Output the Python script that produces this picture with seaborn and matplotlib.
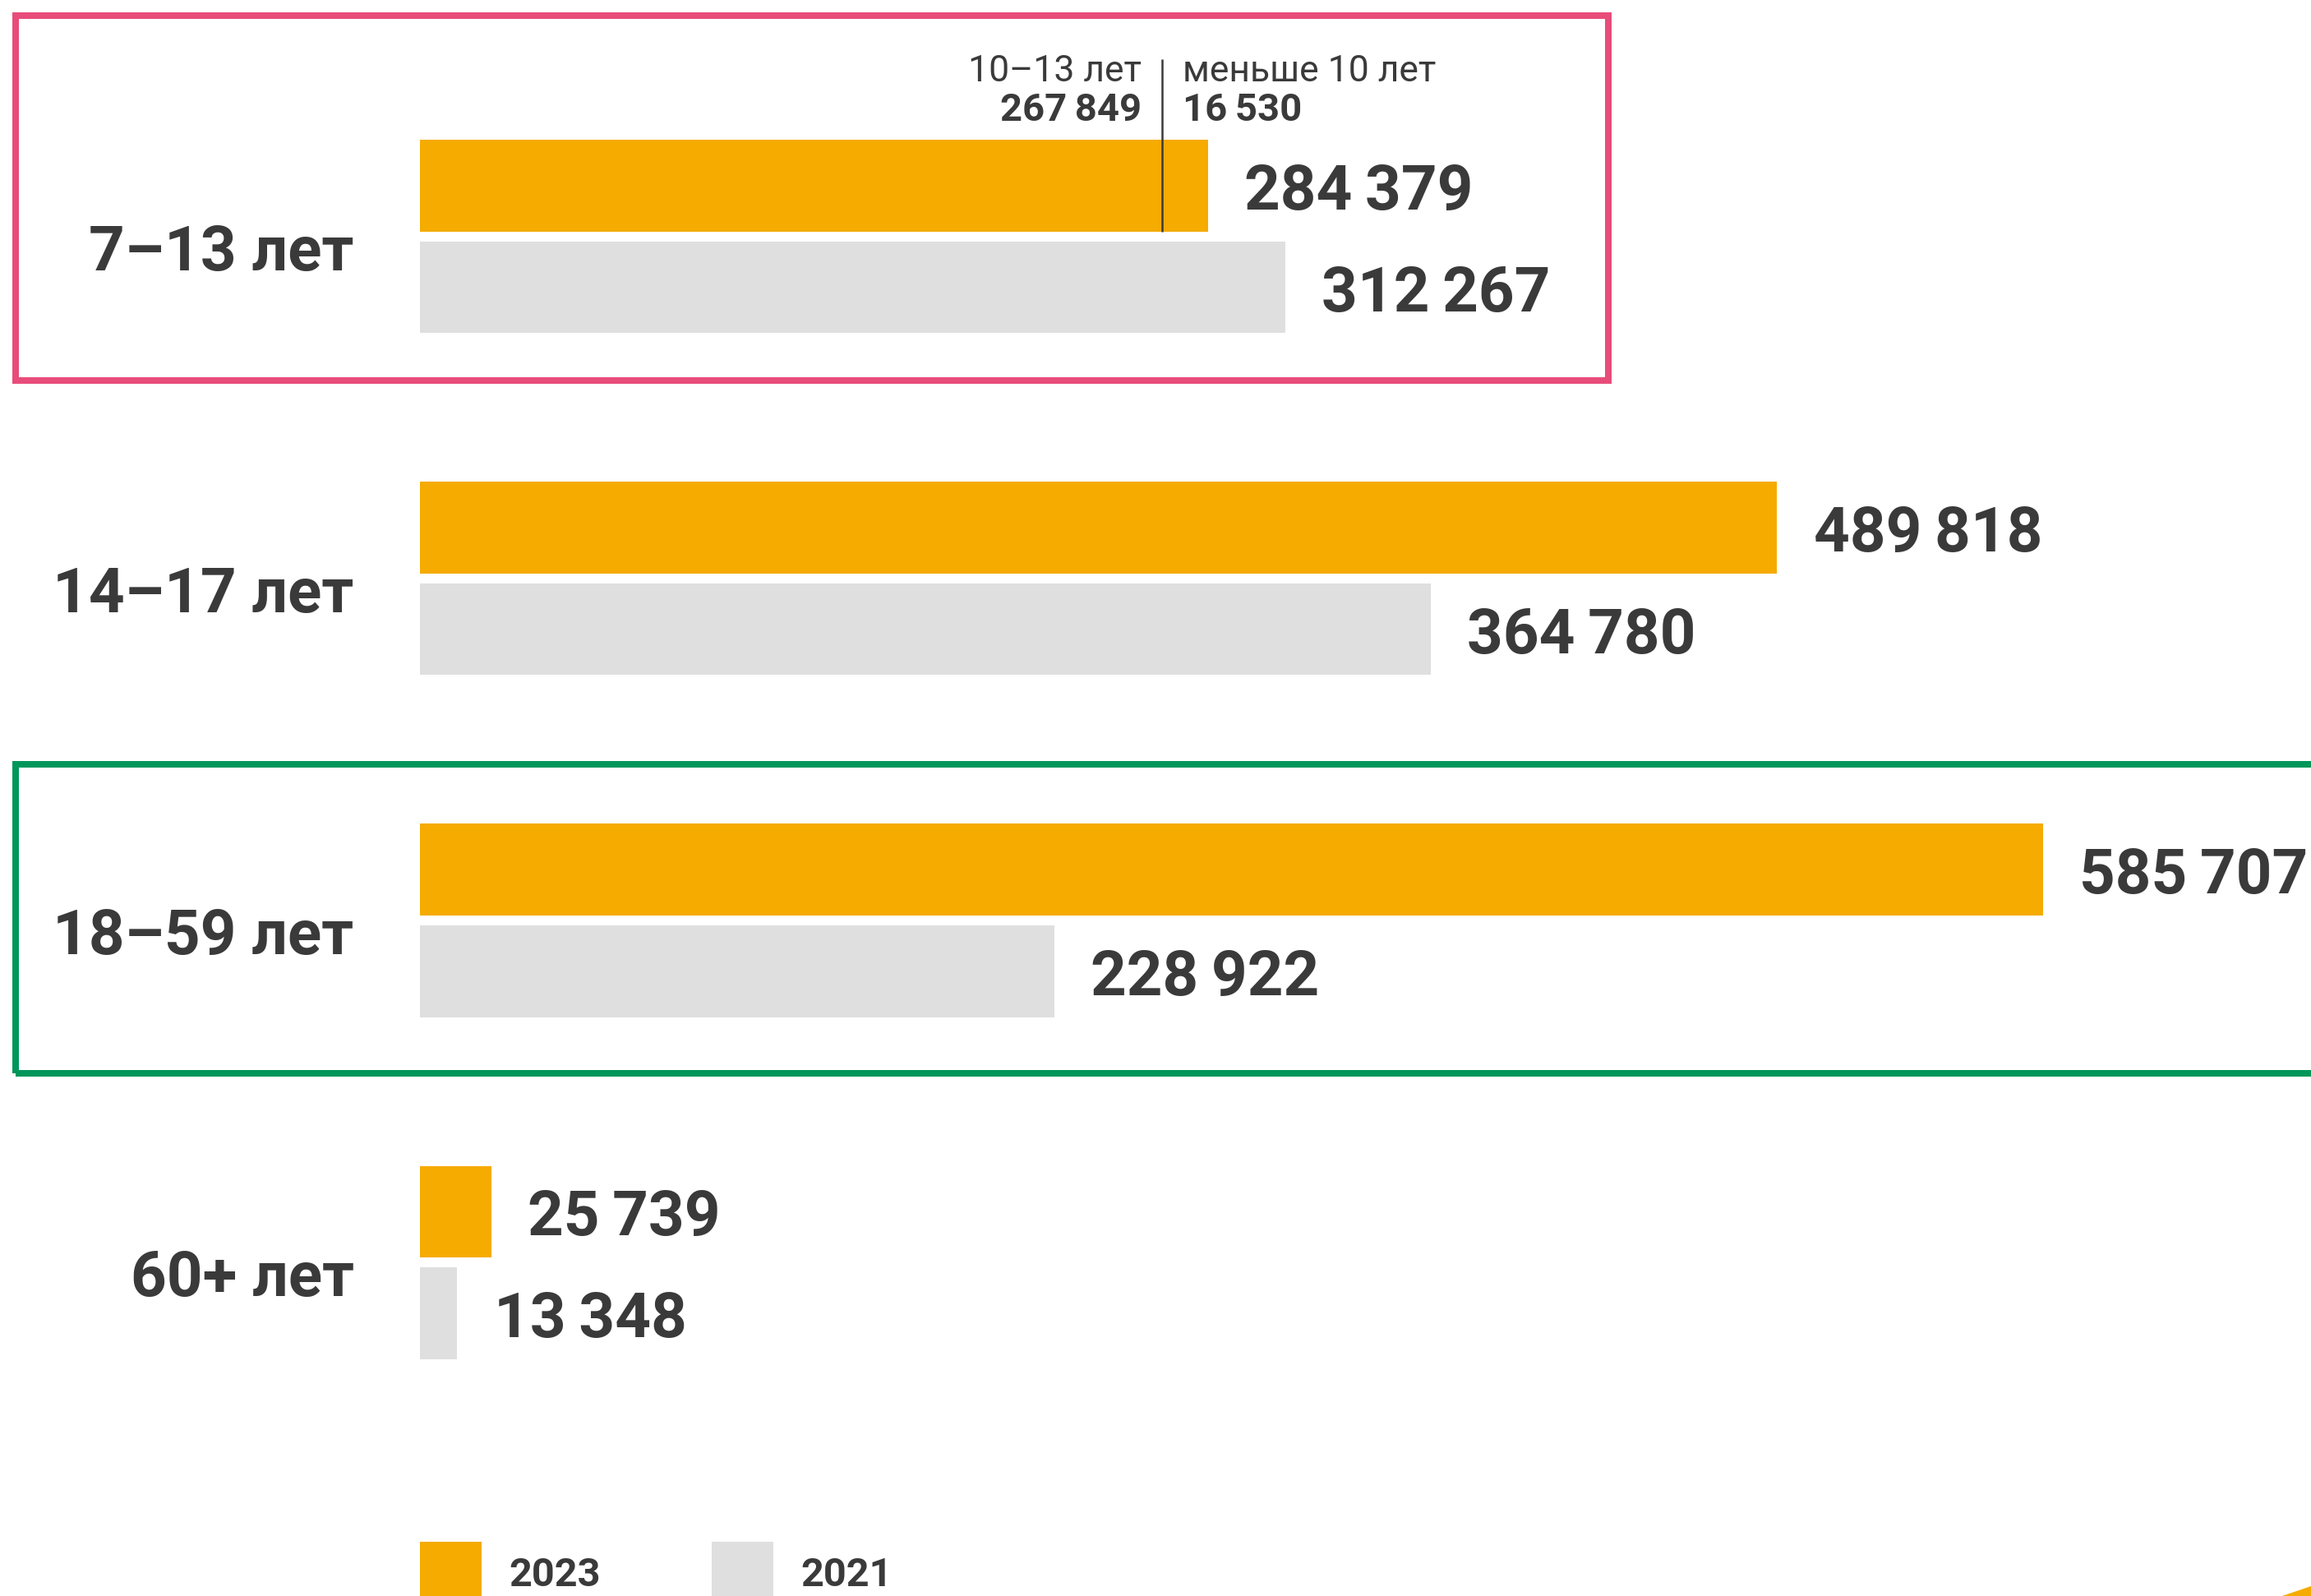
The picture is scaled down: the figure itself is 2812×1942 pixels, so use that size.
import matplotlib
matplotlib.use("Agg")
import matplotlib.pyplot as plt
from matplotlib.patches import Rectangle, Polygon
import seaborn as sns
import pandas as pd

# ---- data ----
categories = ["7–13 лет", "14–17 лет", "18–59 лет", "60+ лет"]
years = ["2023", "2021"]
values_2023 = [284379, 489818, 585707, 25739]
values_2021 = [312267, 364780, 228922, 13348]
split_labels = ["10–13 лет", "меньше 10 лет"]
split_values = [267849, 16530]

ORANGE = "#F5AB00"
GRAY = "#DFDFDF"
TEXT = "#3A3A3A"
PINK = "#E84C7A"
GREEN = "#00965A"

sns.set_theme(style="white")
plt.rcParams["font.family"] = ["Roboto", "DejaVu Sans"]

df = pd.DataFrame({
    "category": categories * 2,
    "year": [years[0]] * 4 + [years[1]] * 4,
    "value": values_2023 + values_2021,
})

W, H = 2812, 1942
fig = plt.figure(figsize=(W / 100, H / 100), dpi=100)
x0 = 511.1 / W
ax = fig.add_axes([x0, 0, 1 - x0, 1])

sns.barplot(data=df, y="category", x="value", hue="year", hue_order=years,
            order=categories, palette=[ORANGE, GRAY], saturation=1,
            orient="h", width=0.595, gap=0.1014, errorbar=None,
            linewidth=0, legend=False, ax=ax)

px_per_unit_x = 1974.5 / 585707
ax.set_xlim(0, (W - 511.1) / px_per_unit_x)
px_per_cat = 416.1
top = -287.8 / px_per_cat
ax.set_ylim(top + H / px_per_cat, top)

for s in ax.spines.values():
    s.set_visible(False)
ax.set_xticks([])
ax.set_yticks([])
ax.set_xlabel("")
ax.set_ylabel("")
ax.set_facecolor("none")

fmt = lambda v: f"{v:,}".replace(",", "\u2009")

for cont, vals in zip(ax.containers, [values_2023, values_2021]):
    texts = ax.bar_label(cont, labels=[fmt(v) for v in vals], padding=32,
                         fontsize=55, fontweight="bold", color=TEXT)
    for t in texts:
        t.xyann = (32, -6)

# category labels
for i, c in enumerate(categories):
    ax.annotate(c, xy=(0, i), xycoords=("axes fraction", "data"),
                xytext=(-58, -15), textcoords="offset points",
                ha="right", va="center", fontsize=55, fontweight="bold",
                color=TEXT)

# split annotation for 7–13
bar0 = ax.containers[0].patches[0]
ybot = bar0.get_y() + bar0.get_height()
ytop_line = top + 72 / px_per_cat
ax.vlines(split_values[0], ybot, ytop_line, color=TEXT, lw=1.8)
y1 = top + 87 / px_per_cat
y2 = top + 134 / px_per_cat
ax.annotate(split_labels[0], xy=(split_values[0], y1), xytext=(-18, 0),
            textcoords="offset points", ha="right", va="center",
            fontsize=32, color=TEXT)
ax.annotate(fmt(split_values[0]), xy=(split_values[0], y2), xytext=(-18, 0),
            textcoords="offset points", ha="right", va="center",
            fontsize=34, fontweight="bold", color=TEXT)
ax.annotate(split_labels[1], xy=(split_values[0], y1), xytext=(18, 0),
            textcoords="offset points", ha="left", va="center",
            fontsize=32, color=TEXT)
ax.annotate(fmt(split_values[1]), xy=(split_values[0], y2), xytext=(18, 0),
            textcoords="offset points", ha="left", va="center",
            fontsize=34, fontweight="bold", color=TEXT)

# frames
def fig_rect(xl, yt, xr, yb, color, lw_px):
    r = Rectangle((xl / W, 1 - yb / H), (xr - xl) / W, (yb - yt) / H,
                  transform=fig.transFigure, fill=False, edgecolor=color,
                  linewidth=lw_px * 0.72, zorder=5)
    fig.add_artist(r)

fig_rect(19, 19, 1957, 463, PINK, 8)
fig_rect(19, 930, 2850, 1306, GREEN, 8)

# legend
for (xl, xt), col, lab in zip([(511, 619), (866, 974)], [ORANGE, GRAY], years):
    fig.add_artist(Rectangle((xl / W, 1 - 1951 / H), 75 / W, 75 / H,
                             transform=fig.transFigure, color=col, lw=0))
    fig.text(xt / W, 1 - 1917 / H, lab, ha="left", va="center",
             fontsize=35, fontweight="bold", color=TEXT)

# corner decoration
fig.add_artist(Polygon([(2777 / W, 0), (1, 12 / H), (1, 0)], closed=True,
                       transform=fig.transFigure, color=ORANGE, lw=0))

fig.savefig("out.png", dpi=100)
